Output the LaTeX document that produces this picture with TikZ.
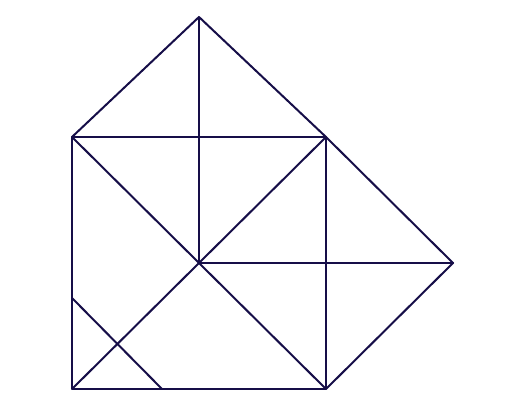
\documentclass[tikz,border=0pt]{standalone}
\definecolor{ink}{RGB}{22,14,72}
\begin{document}
\begin{tikzpicture}[x=1pt,y=-1pt,edge/.style={draw=ink,line width=2pt,line join=round,line cap=round}]
\useasboundingbox (0,0) rectangle (520,409);
\coordinate (TL) at (72,137);
\coordinate (TR) at (326,137);
\coordinate (BL) at (72,389);
\coordinate (BR) at (326,389);
\coordinate (A) at (199,17);
\coordinate (R) at (453,263);
\coordinate (C) at (199,263);
\coordinate (P) at (72,298);
\coordinate (Q) at (162,389);
\draw[edge] (TL) -- (TR) -- (BR) -- (BL) -- cycle;
\draw[edge] (TL) -- (A) -- (TR);
\draw[edge] (A) -- (C);
\draw[edge] (TL) -- (BR);
\draw[edge] (BL) -- (TR);
\draw[edge] (C) -- (R);
\draw[edge] (TR) -- (R) -- (BR);
\draw[edge] (P) -- (Q);
\end{tikzpicture}
\end{document}
